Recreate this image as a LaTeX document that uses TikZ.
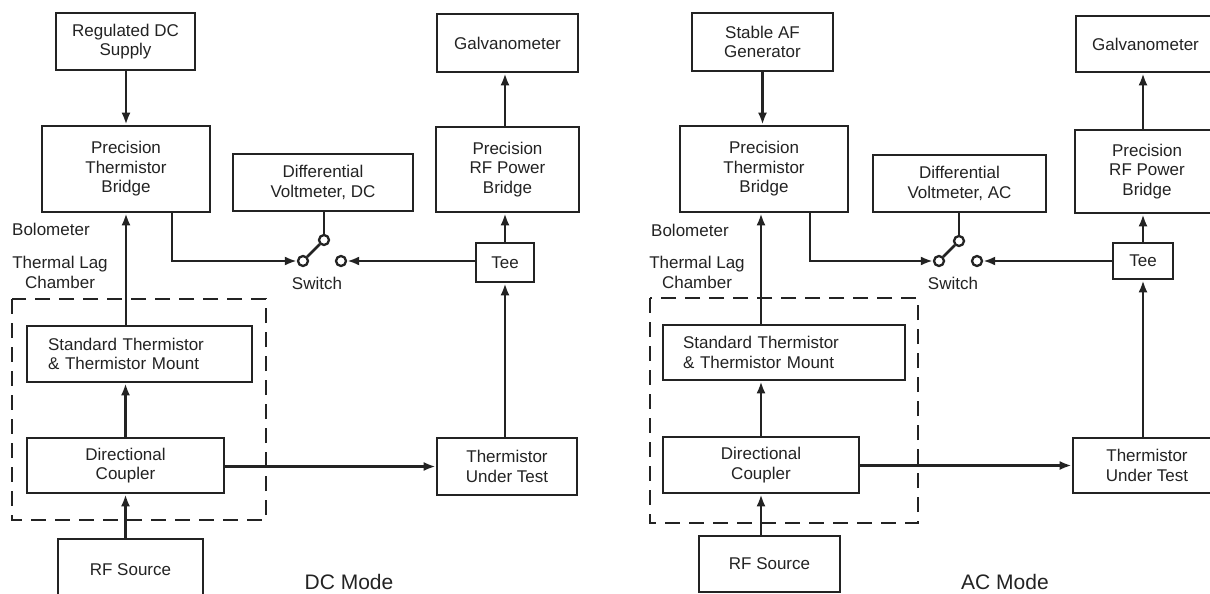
\documentclass[tikz,border=0pt]{standalone}
\usepackage{fontspec}
\setmainfont{Liberation Sans}
\usetikzlibrary{arrows.meta}
\definecolor{ink}{RGB}{35,35,35}
\begin{document}
\begin{tikzpicture}[x=1pt,y=-1pt,
  box/.style={draw=ink, line width=2.7pt, inner sep=0pt, align=center, text=ink, font=\fontsize{17}{19.5}\selectfont},
  conn/.style={draw=ink, line width=2.5pt},
  arr/.style={conn, -{Latex[length=12pt,width=9pt]}},
  lbl/.style={inner sep=0pt, text=ink, align=center, font=\fontsize{17}{19.5}\selectfont},
  mode/.style={inner sep=0pt, text=ink, font=\fontsize{21}{24}\selectfont},
  swc/.style={circle, draw=ink, line width=2.3pt, fill=white, minimum size=10pt, inner sep=0pt},
  chamber/.style={draw=ink, line width=2.2pt, dash pattern=on 15pt off 9pt}]
\clip (0,0) rectangle (1210,594);
\fill[white] (0,0) rectangle (1210,594);

% ---------------- DC mode (left) ----------------
\node[box, minimum width=139pt, minimum height=57pt] (supL) at (125.5,41.5) {Regulated DC\\Supply};
\node[box, minimum width=141pt, minimum height=58pt] (galL) at (507.5,43) {Galvanometer};
\node[box, minimum width=168pt, minimum height=86pt] (ptbL) at (126,169) {Precision\\Thermistor\\Bridge};
\node[box, minimum width=180pt, minimum height=57pt] (dvL) at (323,182.5) {Differential\\Voltmeter, DC};
\node[box, minimum width=143pt, minimum height=85pt] (rfbL) at (507.5,169.5) {Precision\\RF Power\\Bridge};
\node[box, minimum width=58pt, minimum height=39pt] (teeL) at (505,262.5) {Tee};
\node[box, minimum width=225pt, minimum height=56pt, align=left, text width=183pt, inner xsep=21pt] (stdL) at (139.5,354) {Standard Thermistor\\\& Thermistor Mount};
\node[box, minimum width=197pt, minimum height=55pt] (dcL) at (125.5,465.5) {Directional\\Coupler};
\node[box, minimum width=140pt, minimum height=57pt] (tutL) at (507,466.5) {Thermistor\\Under Test};
\node[box, minimum width=145pt, minimum height=61pt] (rfsL) at (130.5,569.5) {RF Source};

\node[lbl, anchor=west] (bolL) at (12,229) {Bolometer};
\node[lbl] (tlcL) at (60,272.5) {Thermal Lag\\Chamber};
\draw[chamber] (12,299) rectangle (266,520);

\node[swc] (sLa) at (303,261) {};
\node[swc] (sLb) at (324,240) {};
\node[swc] (sLc) at (341,261) {};
\node[lbl] (swtL) at (317,283) {Switch};
\node[mode] (modeL) at (349,582) {DC Mode};

\draw[arr] (supL.south -| ptbL) -- (ptbL.north);
\draw[arr] (rfbL.north -| teeL) -- (teeL |- galL.south);
\draw[arr] (teeL.north) -- (teeL.north |- rfbL.south);
\draw[arr] (tutL.north -| teeL) -- (teeL.south);
\draw[arr] (stdL.north -| ptbL) -- (ptbL.south);
\draw[arr] (dcL.north) -- (dcL.north |- stdL.south);
\draw[arr] (rfsL.north -| dcL) -- (dcL.south);
\draw[arr] (dcL.east |- tutL.west) -- (tutL.west);
\draw[arr] ([xshift=46pt]ptbL.south) |- (sLa.west);
\draw[arr] (teeL.west |- sLc) -- (sLc.east);
\draw[conn] (sLa) -- (sLb);
\draw[conn] (dvL.south -| sLb) -- (sLb.north);

% ---------------- AC mode (right) ----------------
\node[box, minimum width=141pt, minimum height=58pt] (supR) at (762.5,42) {Stable AF\\Generator};
\node[box, minimum width=139pt, minimum height=56pt] (galR) at (1145.5,44) {Galvanometer};
\node[box, minimum width=168pt, minimum height=86pt] (ptbR) at (764,169) {Precision\\Thermistor\\Bridge};
\node[box, minimum width=173pt, minimum height=57pt] (dvR) at (959.5,183.5) {Differential\\Voltmeter, AC};
\node[box, minimum width=144pt, minimum height=83pt] (rfbR) at (1147,171.5) {Precision\\RF Power\\Bridge};
\node[box, minimum width=60pt, minimum height=36pt] (teeR) at (1143,261) {Tee};
\node[box, minimum width=242pt, minimum height=55pt, align=left, text width=202pt, inner xsep=20pt] (stdR) at (784,352.5) {Standard Thermistor\\\& Thermistor Mount};
\node[box, minimum width=196pt, minimum height=56pt] (dcR) at (761,465) {Directional\\Coupler};
\node[box, minimum width=148pt, minimum height=55pt] (tutR) at (1147,465.5) {Thermistor\\Under Test};
\node[box, minimum width=141pt, minimum height=56pt] (rfsR) at (769.5,564) {RF Source};

\node[lbl, anchor=west] (bolR) at (651,230) {Bolometer};
\node[lbl] (tlcR) at (697,272.5) {Thermal Lag\\Chamber};
\draw[chamber] (650,298) rectangle (918,523);

\node[swc] (sRa) at (939,261) {};
\node[swc] (sRb) at (959,241) {};
\node[swc] (sRc) at (977,261) {};
\node[lbl] (swtR) at (953,283) {Switch};
\node[mode] (modeR) at (1005,582) {AC Mode};

\draw[arr] (supR.south) -- (supR.south |- ptbR.north);
\draw[arr] (rfbR.north -| teeR) -- (teeR |- galR.south);
\draw[arr] (teeR.north) -- (teeR.north |- rfbR.south);
\draw[arr] (tutR.north -| teeR) -- (teeR.south);
\draw[arr] (stdR.north -| dcR) -- (dcR |- ptbR.south);
\draw[arr] (dcR.north) -- (dcR.north |- stdR.south);
\draw[arr] (rfsR.north -| dcR) -- (dcR.south);
\draw[arr] (dcR.east |- tutR.west) -- (tutR.west);
\draw[arr] ([xshift=46pt]ptbR.south) |- (sRa.west);
\draw[arr] (teeR.west |- sRc) -- (sRc.east);
\draw[conn] (sRa) -- (sRb);
\draw[conn] (dvR.south -| sRb) -- (sRb.north);
\end{tikzpicture}
\end{document}
